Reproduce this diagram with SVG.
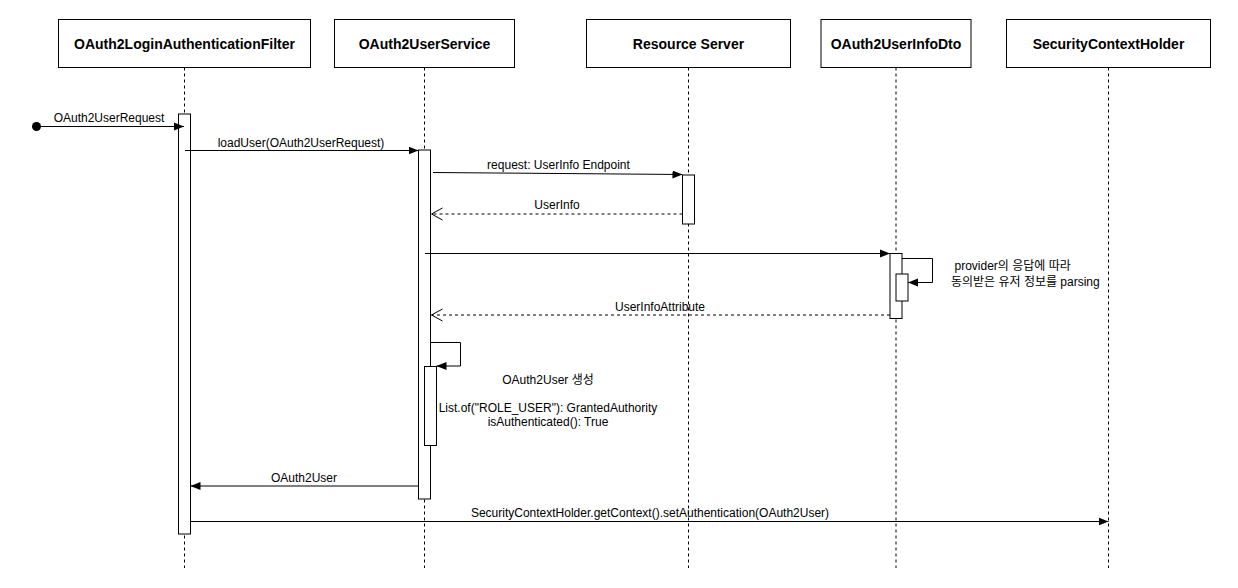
<svg xmlns="http://www.w3.org/2000/svg" width="1238" height="588" viewBox="0 0 1238 588">
<style>
.hdr{fill:#fff;stroke:#000;stroke-width:1}
.ht{font-family:"Liberation Sans","Noto Sans CJK KR",sans-serif;font-size:14px;font-weight:bold;text-anchor:middle;fill:#000}
.life{stroke:#000;stroke-width:1;stroke-dasharray:3 3;fill:none}
.act{fill:#fff;stroke:#000;stroke-width:1}
.msg{stroke:#000;stroke-width:1;fill:none}
.ret{stroke:#000;stroke-width:1;fill:none;stroke-dasharray:3 3}
.lbl{font-family:"Liberation Sans","Noto Sans CJK KR",sans-serif;font-size:12px;fill:#000}
.c{text-anchor:middle}
</style>
<defs>
<marker id="block" markerWidth="10" markerHeight="10" refX="10" refY="4" orient="auto" markerUnits="userSpaceOnUse" viewBox="0 0 10 8">
<path d="M0,0 L10,4 L0,8 Z" fill="#000"/>
</marker>
<marker id="open" markerWidth="12" markerHeight="14" refX="11" refY="6" orient="auto" markerUnits="userSpaceOnUse" viewBox="0 0 12 12">
<path d="M0,0 L11,6 L0,12" fill="none" stroke="#000" stroke-width="1"/>
</marker>
</defs>
<rect width="1238" height="588" fill="#fff"/>

<g id="lifelines">
<line class="life" x1="184.5" y1="67.5" x2="184.5" y2="568"/>
<line class="life" x1="424.5" y1="67.5" x2="424.5" y2="568"/>
<line class="life" x1="688.5" y1="67.5" x2="688.5" y2="568"/>
<line class="life" x1="896" y1="67.5" x2="896" y2="568"/>
<line class="life" x1="1108.5" y1="67.5" x2="1108.5" y2="568"/>
</g>

<g id="node-filter">
<rect class="hdr" x="58.5" y="19.5" width="252" height="48"/>
<text class="ht" x="184.5" y="49">OAuth2LoginAuthenticationFilter</text>
<rect class="act" x="178.5" y="114" width="12" height="420"/>
</g>
<g id="node-userservice">
<rect class="hdr" x="334.5" y="19.5" width="180" height="48"/>
<text class="ht" x="424.5" y="49">OAuth2UserService</text>
<rect class="act" x="418.5" y="150" width="12" height="349"/>
<rect class="act" x="424.5" y="366.5" width="12" height="79"/>
</g>
<g id="node-resource">
<rect class="hdr" x="586.5" y="19.5" width="204" height="48"/>
<text class="ht" x="688.5" y="49">Resource Server</text>
<rect class="act" x="682.5" y="175" width="12" height="49"/>
</g>
<g id="node-dto">
<rect class="hdr" x="821" y="19.5" width="150" height="48"/>
<text class="ht" x="896" y="49">OAuth2UserInfoDto</text>
<rect class="act" x="890" y="253.5" width="12" height="65"/>
<rect class="act" x="896" y="274" width="12" height="27"/>
</g>
<g id="node-holder">
<rect class="hdr" x="1006.5" y="19.5" width="204" height="48"/>
<text class="ht" x="1108.5" y="49">SecurityContextHolder</text>
</g>

<g id="connectors">
<circle cx="36.5" cy="126.5" r="4.5" fill="#000"/>
<line class="msg" x1="36.5" y1="126.5" x2="184" y2="126.5" marker-end="url(#block)"/>
<text class="lbl c" x="109" y="121.5">OAuth2UserRequest</text>

<line class="msg" x1="185" y1="150.5" x2="418.5" y2="150.5" marker-end="url(#block)"/>
<text class="lbl c" x="301" y="146.5">loadUser(OAuth2UserRequest)</text>

<line class="msg" x1="433" y1="172.5" x2="682.5" y2="174.5" marker-end="url(#block)"/>
<text class="lbl c" x="558.5" y="169">request: UserInfo Endpoint</text>

<line class="ret" x1="682.5" y1="214" x2="431.5" y2="214" marker-end="url(#open)"/>
<text class="lbl c" x="557" y="209">UserInfo</text>

<line class="msg" x1="425" y1="253.5" x2="890" y2="253.5" marker-end="url(#block)"/>

<polyline class="msg" points="902,258.5 932.5,258.5 932.5,282.5 908,282.5" marker-end="url(#block)"/>
<text class="lbl" x="954.5" y="269.5">provider의 응답에 따라</text>
<text class="lbl" x="951" y="285.5">동의받은 유저 정보를 parsing</text>

<line class="ret" x1="890" y1="315" x2="431.5" y2="315" marker-end="url(#open)"/>
<text class="lbl c" x="660" y="310.5">UserInfoAttribute</text>

<polyline class="msg" points="430.5,342.5 460.5,342.5 460.5,366 436.5,366" marker-end="url(#block)"/>
<text class="lbl c" x="548" y="384">OAuth2User 생성</text>
<text class="lbl c" x="548" y="412">List.of("ROLE_USER"): GrantedAuthority</text>
<text class="lbl c" x="548" y="426">isAuthenticated(): True</text>

<line class="msg" x1="418.5" y1="486" x2="190.5" y2="486" marker-end="url(#block)"/>
<text class="lbl c" x="304" y="481.5">OAuth2User</text>

<line class="msg" x1="190.5" y1="521.5" x2="1108.5" y2="521.5" marker-end="url(#block)"/>
<text class="lbl c" x="650" y="517">SecurityContextHolder.getContext().setAuthentication(OAuth2User)</text>
</g>
</svg>
